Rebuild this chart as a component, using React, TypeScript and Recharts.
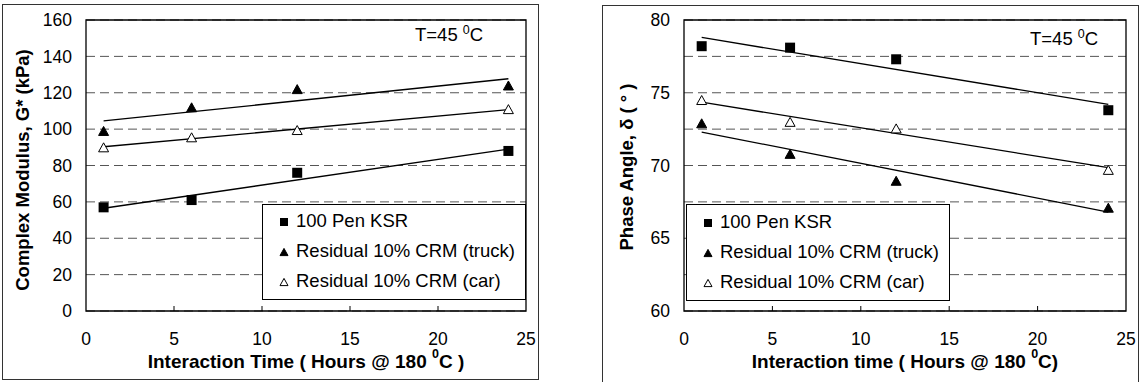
import React from "react";
import { ScatterChart, Scatter, XAxis, YAxis, CartesianGrid, ReferenceArea, Legend } from "recharts";

// sampling times (h) and the two ends of each fitted line
const hours = [1, 6, 12, 24];
const fitHours = [1, 24];

// complex modulus G* (kPa)
const modulusKsr = [57, 61, 76, 88];
const modulusTruck = [99, 112, 122, 124];
const modulusCar = [90, 95.5, 99.5, 111];
const modulusKsrFit = [56.5, 89];
const modulusTruckFit = [104.5, 127.7];
const modulusCarFit = [90.3, 110.7];

// phase angle (deg)
const phaseKsr = [78.2, 78.1, 77.3, 73.8];
const phaseTruck = [72.9, 70.8, 68.95, 67.1];
const phaseCar = [74.5, 73.0, 72.55, 69.7];
const phaseKsrFit = [78.8, 74.2];
const phaseTruckFit = [72.3, 66.8];
const phaseCarFit = [74.35, 69.85];

const xTicks = [0, 5, 10, 15, 20, 25];
const modulusTicks = [0, 20, 40, 60, 80, 100, 120, 140, 160];
const phaseTicks = [60, 62.5, 65, 67.5, 70, 72.5, 75, 77.5, 80];

const seriesNames = ["100 Pen KSR", "Residual 10% CRM (truck)", "Residual 10% CRM (car)"];
const markerKinds = ["square", "triangle", "openTriangle"];

const FONT = '"Liberation Sans", Arial, sans-serif';

function Marker({ kind, cx, cy, size }: { kind: string; cx: number; cy: number; size: number }) {
  if (kind === "square") {
    return <rect x={cx - size / 2} y={cy - size / 2} width={size} height={size} fill="#000" />;
  }
  const h = size * 0.9;
  const pts = `${cx},${cy - h / 2} ${cx + size / 2},${cy + h / 2} ${cx - size / 2},${cy + h / 2}`;
  return <polygon points={pts} fill={kind === "triangle" ? "#000" : "#fff"} stroke="#000" strokeWidth={1} />;
}

// x ticks point inward from the axis line, labels sit below
function XTick({ x, y, payload }: any) {
  const v = payload.value;
  return (
    <g>
      {v > 0 && v < 25 && <line x1={x} x2={x} y1={y} y2={y - 5} stroke="#000" />}
      <text x={x} y={y + 28} textAnchor="middle" dominantBaseline="central" fontSize={17.5} fill="#000">
        {v}
      </text>
    </g>
  );
}

function LegendBox({ width, height, rowTop }: { width: number; height: number; rowTop: number }) {
  return (
    <div
      style={{
        position: "relative",
        width,
        height,
        boxSizing: "border-box",
        border: "1px solid #000",
        background: "#fff",
        fontFamily: FONT,
        fontSize: 18.5,
      }}
    >
      {seriesNames.map((name, i) => (
        <div key={name} style={{ position: "absolute", left: 0, top: rowTop + i * 30 - 10, height: 20, width: "100%" }}>
          <svg width={30} height={20} style={{ position: "absolute", left: 6, top: 0 }}>
            <Marker kind={markerKinds[i]} cx={15} cy={11} size={8} />
          </svg>
          <span style={{ position: "absolute", left: 33, top: 0, lineHeight: "20px", whiteSpace: "nowrap" }}>{name}</span>
        </div>
      ))}
    </div>
  );
}

interface PanelProps {
  left: number;
  width: number;
  margin: { top: number; right: number; bottom: number; left: number };
  yDomain: [number, number];
  yTicks: number[];
  labelStep: number;
  series: number[][];
  fits: number[][];
  xTitle: string;
  xTitleTail: string;
  yTitle: string;
  yTitleX: number;
  yTitleY: number;
  legendLeft: number;
  legendHeight: number;
  rowTop: number;
  tempLeft: number;
  tempTop: number;
}

function Panel(p: PanelProps) {
  const points = (vals: number[]) => hours.map((h, i) => ({ x: h, y: vals[i] }));
  const fitPoints = (vals: number[]) => fitHours.map((h, i) => ({ x: h, y: vals[i] }));

  return (
    <div style={{ position: "absolute", left: p.left, top: 0, width: p.width, height: 382 }}>
      <ScatterChart width={p.width} height={382} margin={p.margin}>
        <CartesianGrid horizontal vertical={false} stroke="#555" strokeDasharray="9 5" />
        <XAxis
          type="number"
          dataKey="x"
          domain={[0, 25]}
          ticks={xTicks}
          interval={0}
          axisLine={false}
          tickLine={false}
          tickSize={0}
          tickMargin={0}
          height={50}
          tick={<XTick />}
          label={{
            content: ({ viewBox }: any) => (
              <text
                x={viewBox.x + viewBox.width / 2}
                y={viewBox.y + 50}
                textAnchor="middle"
                dominantBaseline="central"
                fontSize={19}
                fontWeight="bold"
                fill="#000"
              >
                <tspan>{p.xTitle}</tspan>
                <tspan dy={-7} fontSize={12.5}>0</tspan>
                <tspan dy={7}>{p.xTitleTail}</tspan>
              </text>
            ),
          }}
        />
        <YAxis
          type="number"
          dataKey="y"
          domain={p.yDomain}
          ticks={p.yTicks}
          interval={0}
          width={60}
          axisLine={false}
          tickLine={false}
          tickSize={6}
          tickMargin={8}
          tick={{ fill: "#000", fontSize: 17.5 }}
          tickFormatter={(v: number) => (v % p.labelStep === 0 ? String(v) : "")}
          label={{
            content: () => (
              <text
                x={p.yTitleX}
                y={p.yTitleY}
                transform={`rotate(-90 ${p.yTitleX} ${p.yTitleY})`}
                textAnchor="middle"
                dominantBaseline="central"
                fontSize={18.5}
                fontWeight="bold"
                fill="#000"
              >
                {p.yTitle}
              </text>
            ),
          }}
        />
        <ReferenceArea x1={0} x2={25} y1={p.yDomain[0]} y2={p.yDomain[1]} fill="none" stroke="#000" strokeWidth={1.3} />
        {p.fits.map((f, i) => (
          <Scatter
            key={`fit-${i}`}
            data={fitPoints(f)}
            line={{ stroke: "#000", strokeWidth: 1.3 }}
            shape={() => <g />}
            legendType="none"
            isAnimationActive={false}
          />
        ))}
        {p.series.map((s, i) => (
          <Scatter
            key={seriesNames[i]}
            name={seriesNames[i]}
            data={points(s)}
            shape={(sp: any) => <Marker kind={markerKinds[i]} cx={sp.cx} cy={sp.cy} size={10} />}
            isAnimationActive={false}
          />
        ))}
        <Legend
          layout="vertical"
          align="center"
          verticalAlign="middle"
          wrapperStyle={{ left: p.legendLeft, top: 204, width: 264, height: p.legendHeight }}
          content={() => <LegendBox width={264} height={p.legendHeight} rowTop={p.rowTop} />}
        />
      </ScatterChart>
      <div
        style={{
          position: "absolute",
          left: p.tempLeft,
          top: p.tempTop,
          fontFamily: FONT,
          fontSize: 18.5,
          lineHeight: "18px",
          whiteSpace: "nowrap",
        }}
      >
        T=45 <span style={{ fontSize: 12.5, position: "relative", top: -7 }}>0</span>C
      </div>
    </div>
  );
}

export default function App() {
  return (
    <div
      style={{
        position: "absolute",
        left: 0,
        top: 0,
        width: 1139,
        height: 382,
        background: "#fff",
        overflow: "hidden",
        fontFamily: FONT,
      }}
    >
      <div
        style={{
          position: "absolute",
          left: 2,
          top: 4,
          width: 537,
          height: 376,
          boxSizing: "border-box",
          border: "1.5px solid #333",
        }}
      />
      <div
        style={{
          position: "absolute",
          left: 602,
          top: 5,
          width: 537,
          height: 380,
          boxSizing: "border-box",
          border: "1.5px solid #333",
          borderBottom: "none",
        }}
      />
      <Panel
        left={0}
        width={560}
        margin={{ top: 20, right: 34, bottom: 21, left: 26 }}
        yDomain={[0, 160]}
        yTicks={modulusTicks}
        labelStep={20}
        series={[modulusKsr, modulusTruck, modulusCar]}
        fits={[modulusKsrFit, modulusTruckFit, modulusCarFit]}
        xTitle="Interaction Time ( Hours @ 180 "
        xTitleTail="C )"
        yTitle="Complex Modulus, G* (kPa)"
        yTitleX={22}
        yTitleY={170}
        legendLeft={262}
        legendHeight={96}
        rowTop={16}
        tempLeft={415}
        tempTop={26}
      />
      <Panel
        left={580}
        width={559}
        margin={{ top: 20, right: 13, bottom: 21, left: 44 }}
        yDomain={[60, 80]}
        yTicks={phaseTicks}
        labelStep={5}
        series={[phaseKsr, phaseTruck, phaseCar]}
        fits={[phaseKsrFit, phaseTruckFit, phaseCarFit]}
        xTitle="Interaction time ( Hours @ 180 "
        xTitleTail="C)"
        yTitle="Phase Angle,  δ ( ° )"
        yTitleX={46}
        yTitleY={167}
        legendLeft={106}
        legendHeight={97}
        rowTop={17}
        tempLeft={450}
        tempTop={30}
      />
    </div>
  );
}
